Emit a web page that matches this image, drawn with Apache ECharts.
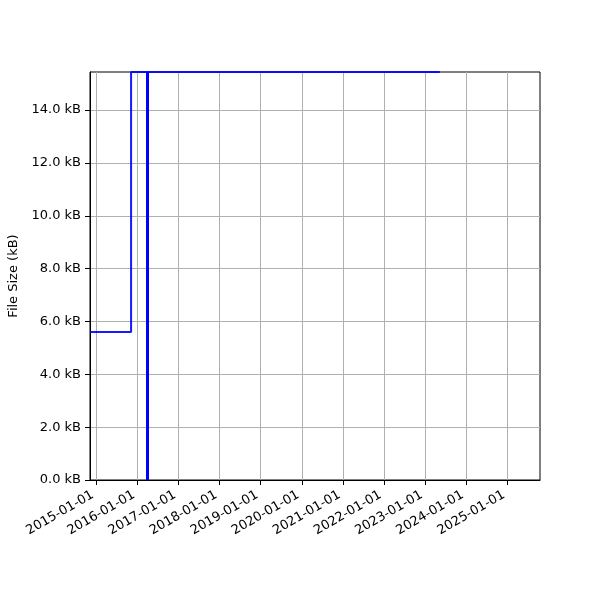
<!DOCTYPE html>
<html>
<head>
<meta charset="utf-8">
<script src="https://cdn.jsdelivr.net/npm/echarts@6/dist/echarts.min.js"></script>
<style>html,body{margin:0;padding:0;background:#fff}#c{width:600px;height:600px}</style>
</head>
<body>
<div id="c"></div>
<script>
// Data
const stepDates = ['2014-11-06', '2015-11-06', '2023-05-12'];
const stepSizes = [5.6, 15.44, 15.44]; // kB
const markerDate = '2016-03-28';
const xRange = ['2014-11-06', '2025-10-18'];
const yearTicks = ['2015-01-01','2016-01-01','2017-01-01','2018-01-01','2019-01-01','2020-01-01','2021-01-01','2022-01-01','2023-01-01','2024-01-01','2025-01-01'];
const yTicks = [0, 2, 4, 6, 8, 10, 12, 14];
const yMax = 15.44;

function ts(s){ const p = s.split('-').map(Number); return Date.UTC(p[0], p[1]-1, p[2]); }
function pad(n){ return (n<10?'0':'')+n; }

const chart = echarts.init(document.getElementById('c'), null, {renderer:'canvas'});
const font = 'DejaVu Sans';
chart.setOption({
  animation: false,
  textStyle: {fontFamily: font},
  grid: {left: 90, right: 60, top: 72, bottom: 120, show: true, borderColor: '#000', borderWidth: 1,
    containLabel: false, outerBoundsMode: 'none'},
  xAxis: {
    type: 'value',
    min: ts(xRange[0]), max: ts(xRange[1]),
    axisLine: {show: true, lineStyle: {color: '#000', width: 1}},
    axisTick: {show: true, length: 5, lineStyle: {color: '#000'}, customValues: yearTicks.map(ts)},
    axisLabel: {
      customValues: yearTicks.map(ts),
      rotate: 30, color: '#000', fontSize: 13, fontFamily: font, margin: 12, padding: [0, 4, 0, 0],
      formatter: function(v){ const d = new Date(v); return d.getUTCFullYear()+'-'+pad(d.getUTCMonth()+1)+'-'+pad(d.getUTCDate()); }
    },
    splitLine: {show: true, lineStyle: {color: '#b0b0b0', width: 1}}
  },
  yAxis: {
    type: 'value', min: 0, max: yMax,
    name: 'File Size (kB)', nameLocation: 'middle', nameGap: 64, nameRotate: 90,
    nameTextStyle: {color: '#000', fontSize: 13, fontFamily: font},
    axisLine: {show: true, lineStyle: {color: '#000', width: 1}},
    axisTick: {show: true, length: 5, lineStyle: {color: '#000'}, customValues: yTicks},
    axisLabel: {customValues: yTicks, color: '#000', fontSize: 13, fontFamily: font, margin: 9,
      formatter: function(v){ return v.toFixed(1)+' kB'; }},
    splitLine: {show: true, lineStyle: {color: '#b0b0b0', width: 1}}
  },
  series: [{
    type: 'line', step: 'end', showSymbol: false, symbol: 'none',
    data: stepDates.map((d,i)=>[ts(d), stepSizes[i]]),
    lineStyle: {color: '#0000ff', width: 2, opacity: 0.9},
    itemStyle: {color: '#0000ff'},
    markLine: {
      silent: true, symbol: 'none', label: {show: false},
      lineStyle: {color: '#0000ff', width: 3, type: 'solid', opacity: 1},
      data: [{xAxis: ts(markerDate)}]
    }
  }]
});
</script>
</body>
</html>
